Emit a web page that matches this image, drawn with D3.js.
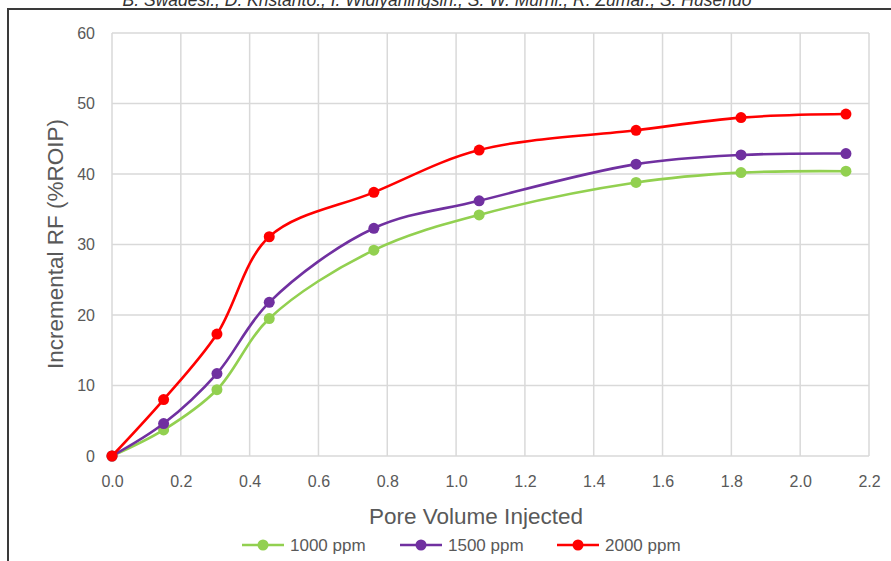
<!DOCTYPE html>
<html><head><meta charset="utf-8">
<script src="https://cdn.jsdelivr.net/npm/d3@7"></script>
<style>body{margin:0;background:#fff;} svg{display:block;font-family:"Liberation Sans",Arial,sans-serif;}</style>
</head><body>
<svg id="c" width="891" height="561"></svg>
<script>
const pvInjected = [0, 0.15, 0.305, 0.457, 0.761, 1.067, 1.523, 1.828, 2.133];
const rf1000 = [0, 3.7, 9.4, 19.5, 29.2, 34.2, 38.8, 40.2, 40.4];
const rf1500 = [0, 4.6, 11.7, 21.8, 32.3, 36.2, 41.4, 42.7, 42.9];
const rf2000 = [0, 8.0, 17.3, 31.1, 37.4, 43.4, 46.2, 48.0, 48.5];
const seriesNames = ["1000 ppm", "1500 ppm", "2000 ppm"];
const seriesColors = ["#92D050", "#7030A0", "#FF0000"];
const xTicks = [0, 0.2, 0.4, 0.6, 0.8, 1.0, 1.2, 1.4, 1.6, 1.8, 2.0, 2.2];
const yTicks = [0, 10, 20, 30, 40, 50, 60];
const headerText = "B. Swadesi., D. Kristanto., I. Widiyaningsih., S. W. Murni., R. Zumar., S. Husendo";

const svg = d3.select("#c");
const x = d3.scaleLinear().domain([0, 2.2]).range([112, 869]);
const y = d3.scaleLinear().domain([0, 60]).range([456, 33]);

// header (clipped at top, as in the source page)
svg.append("text").attr("x", 437).attr("y", 6).attr("text-anchor", "middle")
  .attr("font-style", "italic").attr("font-size", 17.5).attr("fill", "#333")
  .text(headerText);
// frame
svg.append("path").attr("d", "M8,561 V9 H891").attr("fill", "none")
  .attr("stroke", "#3a3a3a").attr("stroke-width", 2);

// grid
const grid = svg.append("g").attr("stroke", "#d9d9d9").attr("stroke-width", 1.5);
grid.selectAll("line.v").data(xTicks).join("line")
  .attr("x1", d => x(d)).attr("x2", d => x(d)).attr("y1", y(60)).attr("y2", y(0));
grid.selectAll("line.h").data(yTicks).join("line").attr("class", "h")
  .attr("x1", x(0)).attr("x2", x(2.2)).attr("y1", d => y(d)).attr("y2", d => y(d));

// axes labels
const xAxis = d3.axisBottom(x).tickValues(xTicks).tickFormat(d3.format(".1f")).tickSize(0).tickPadding(20);
const gx = svg.append("g").attr("transform", `translate(0,${y(0)})`).call(xAxis);
gx.select(".domain").remove();
gx.selectAll("text").attr("font-size", 16).attr("fill", "#595959").attr("font-family", "Liberation Sans, Arial, sans-serif");
const yAxis = d3.axisLeft(y).tickValues(yTicks).tickFormat(d3.format("d")).tickSize(0).tickPadding(17);
const gy = svg.append("g").attr("transform", `translate(${x(0)},0)`).call(yAxis);
gy.select(".domain").remove();
gy.selectAll("text").attr("font-size", 16).attr("fill", "#595959").attr("font-family", "Liberation Sans, Arial, sans-serif");

// titles
svg.append("text").attr("x", 476).attr("y", 524).attr("text-anchor", "middle")
  .attr("font-size", 22.5).attr("fill", "#595959").text("Pore Volume Injected");
svg.append("text").attr("transform", "translate(63,244) rotate(-90)").attr("text-anchor", "middle")
  .attr("font-size", 22.5).attr("fill", "#595959").text("Incremental RF (%ROIP)");

// series
const allSeries = [rf1000, rf1500, rf2000];
const line = d3.line().x(d => x(d[0])).y(d => y(d[1])).curve(d3.curveCatmullRom.alpha(0.5));
allSeries.forEach((vals, i) => {
  const pts = pvInjected.map((p, k) => [p, vals[k]]);
  const g = svg.append("g");
  g.append("path").attr("d", line(pts)).attr("fill", "none")
    .attr("stroke", seriesColors[i]).attr("stroke-width", 2.6);
  g.selectAll("circle").data(pts).join("circle")
    .attr("cx", d => x(d[0])).attr("cy", d => y(d[1])).attr("r", 5.5)
    .attr("fill", seriesColors[i]);
});

// legend
const legX = [242, 400, 557];
const leg = svg.append("g");
seriesNames.forEach((n, i) => {
  const lx = legX[i];
  leg.append("line").attr("x1", lx).attr("x2", lx + 42).attr("y1", 545).attr("y2", 545)
    .attr("stroke", seriesColors[i]).attr("stroke-width", 2.6);
  leg.append("circle").attr("cx", lx + 21).attr("cy", 545).attr("r", 5.5).attr("fill", seriesColors[i]);
  leg.append("text").attr("x", lx + 48).attr("y", 551).attr("font-size", 17)
    .attr("fill", "#595959").text(n);
});
</script>
</body></html>
